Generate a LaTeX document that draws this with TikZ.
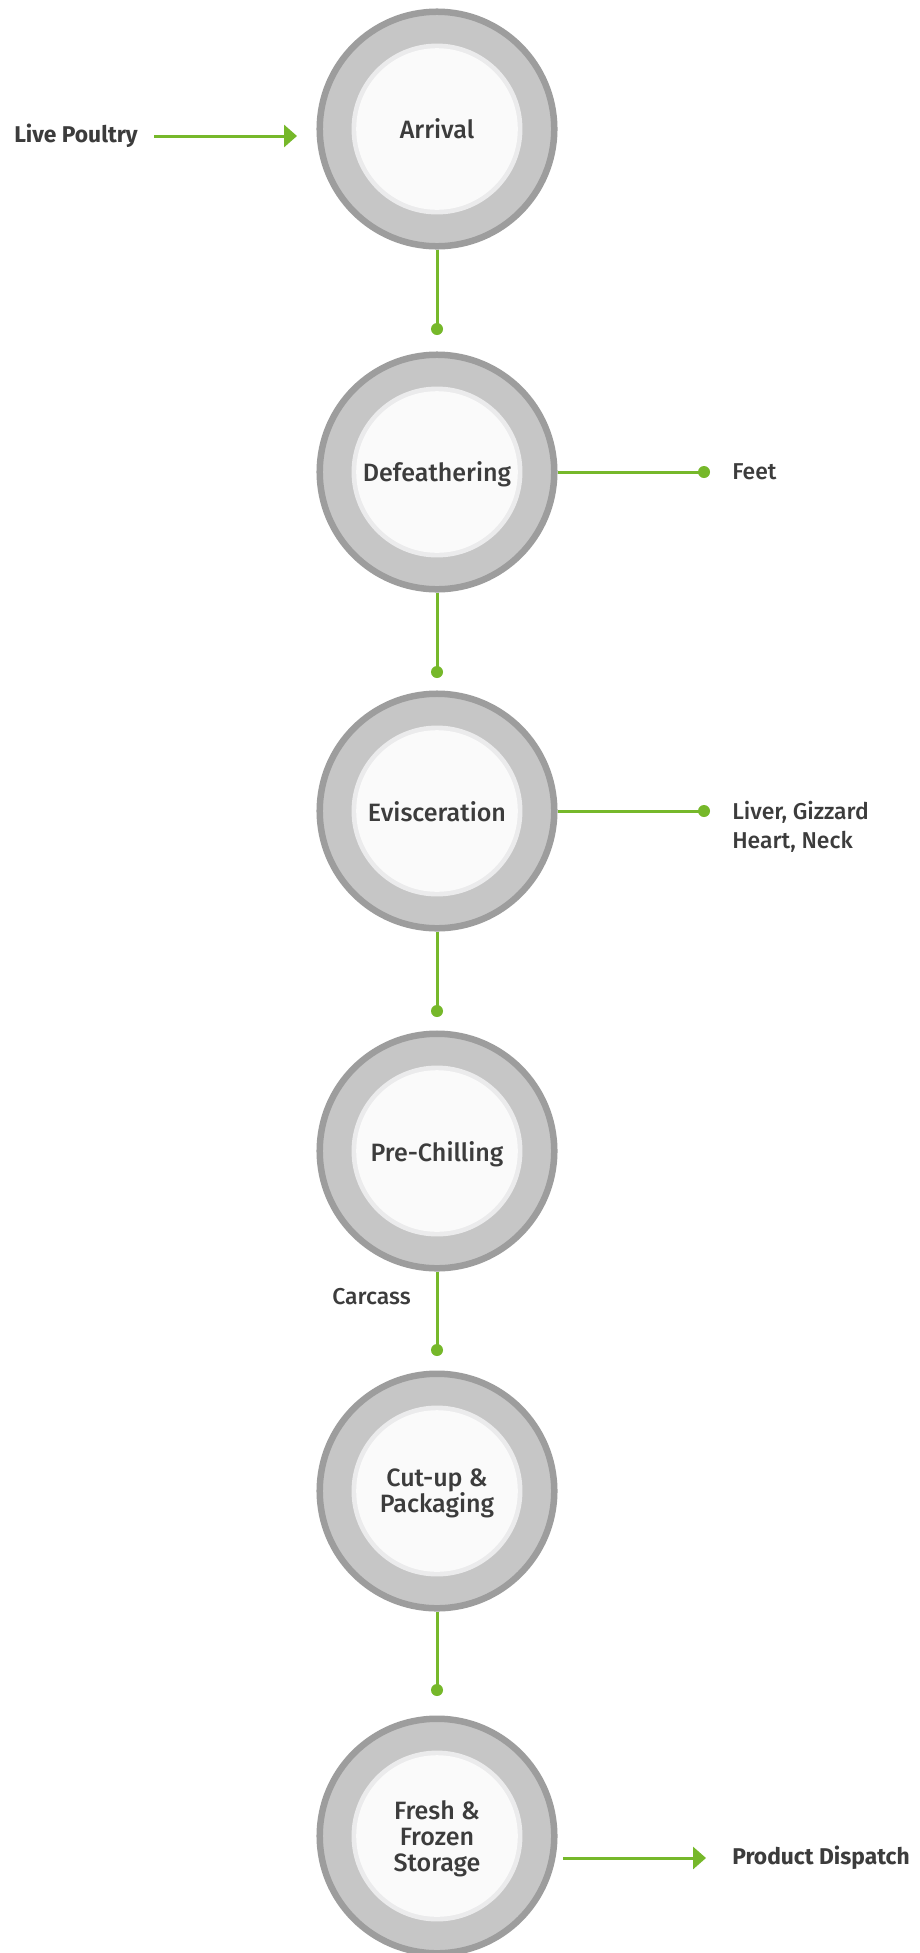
\documentclass[tikz,border=0pt]{standalone}
\usepackage{fontspec}
\setmainfont{Fira Sans}[UprightFont={* Medium},BoldFont={* Bold}]
\usetikzlibrary{arrows.meta}
\definecolor{ringedge}{HTML}{9D9D9D}
\definecolor{ringfill}{HTML}{C6C6C6}
\definecolor{rim}{HTML}{EBEBEC}
\definecolor{core}{HTML}{FAFAFA}
\definecolor{flow}{HTML}{76B82A}
\definecolor{ink}{HTML}{3C3C3C}
\begin{document}
\begin{tikzpicture}[x=0.75pt,y=-0.75pt,
  stage/.style={circle, draw=ringedge, line width=4.875pt, fill=ringfill,
    minimum size=175.9pt, inner sep=0pt, align=center, text=ink, text depth=0pt,
    font=\fontsize{18.8}{19.5}\selectfont,
    path picture={\fill[rim] (path picture bounding box.center) circle[radius=64.1pt];
                  \fill[core] (path picture bounding box.center) circle[radius=60.6pt];}},
  link/.style={draw=flow, line width=2.25pt},
  dot/.style={circle, fill=flow, minimum size=9pt, inner sep=0pt},
  side/.style={text=ink, font=\fontsize{17.2}{21.75}\selectfont, align=left, inner sep=0pt},
  endlabel/.style={text=ink, font=\bfseries\fontsize{17.1}{20}\selectfont, inner sep=0pt},
  tipped/.style={link, -{Triangle[length=9.75pt,width=16.5pt]}}
]
\fill[white] (0,0) rectangle (920,1953);
\useasboundingbox (0,0) rectangle (920,1953);

% stages
\node[stage] (arr) at (437,129) {Arrival};
\node[stage] (def) at (437,472) {Defeathering};
\node[stage] (evi) at (437,811) {Evisceration};
\node[stage] (pre) at (437,1151) {Pre-Chilling};
\node[stage] (cut) at (437,1491) {Cut-up \&\\Packaging};
\node[stage] (sto) at (437,1836) {Fresh \&\\Frozen\\Storage};

% vertical dots
\node[dot] (d1) at (437,329) {};
\node[dot] (d2) at (437,672) {};
\node[dot] (d3) at (437,1011) {};
\node[dot] (d4) at (437,1350) {};
\node[dot] (d5) at (437,1690) {};

\draw[link] (arr) -- (d1.center);
\draw[link] (def) -- (d2.center);
\draw[link] (evi) -- (d3.center);
\draw[link] (pre) -- (d4.center);
\draw[link] (cut) -- (d5.center);

% input
\node[endlabel, anchor=west] (live) at (14,136) {Live Poultry};
\coordinate (livestart) at (154,136);
\coordinate (liveend) at (297,136);
\draw[tipped] (livestart) -- (liveend);

% side outputs
\node[dot] (fdot) at (704,472) {};
\draw[link] (def.east) -- (fdot.center);
\node[side, anchor=west] (feet) at (732,472) {Feet};

\node[dot] (odot) at (704,811) {};
\draw[link] (evi.east) -- (odot.center);
\node[side, anchor=west] (offal) at (732,827) {Liver, Gizzard\\Heart, Neck};

\node[side, anchor=east] (carc) at (411,1297) {Carcass};

% dispatch
\coordinate (dispstart) at (563,1858);
\coordinate (dispend) at (706,1858);
\draw[tipped] (dispstart) -- (dispend);
\node[endlabel, anchor=west] (disp) at (732,1858) {Product Dispatch};
\end{tikzpicture}
\end{document}
